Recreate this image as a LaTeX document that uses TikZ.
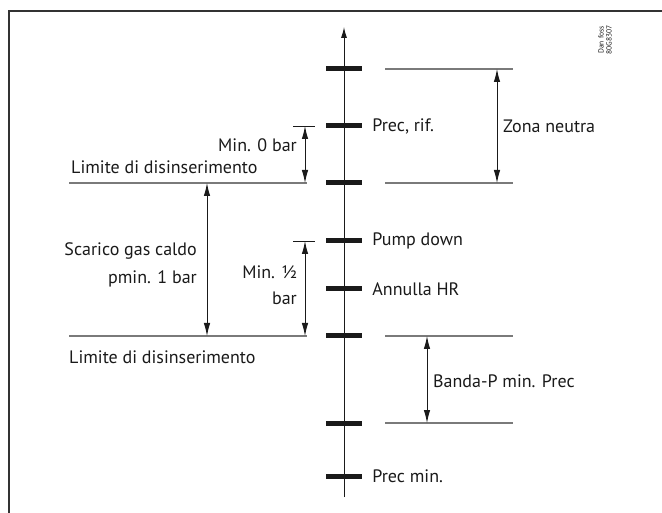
\documentclass[tikz,border=0pt]{standalone}
\usepackage{fontspec}
\setmainfont{PT Sans}
\usetikzlibrary{arrows.meta, positioning}
\definecolor{frameclr}{HTML}{333333}
\definecolor{guide}{HTML}{7A7A7A}
\definecolor{ink}{HTML}{1A1A1A}
\tikzset{
  frameline/.style={draw=frameclr, line width=1.3pt},
  axisline/.style={draw=ink, line width=1pt, -{Latex[length=11pt, width=6pt]}},
  tickbar/.style={fill=ink, minimum width=36pt, minimum height=5pt, inner sep=0pt},
  guideline/.style={draw=guide, line width=1.2pt},
  dimarrow/.style={draw=ink, line width=0.9pt,
    {Latex[length=13pt, width=6.5pt]}-{Latex[length=13pt, width=6.5pt]}},
  ticklbl/.style={font=\fontsize{18}{20}\selectfont, text=ink, inner sep=0pt},
  sidelbl/.style={font=\fontsize{18}{20}\selectfont, text=ink, inner sep=0pt},
  codelbl/.style={font=\fontsize{7.5}{8}\selectfont, text=ink, rotate=90, align=center, inner sep=0pt}
}

\begin{document}
\begin{tikzpicture}[x=1pt, y=-1pt]

  \useasboundingbox (0,0) rectangle (662,513);

  % ---- Frame ---------------------------------------------------------------
  \coordinate (fbl) at (9,513);
  \coordinate (ftl) at (9,11);
  \coordinate (ftr) at (662,11);
  \draw[frameline] (fbl) -- (ftl) -- (ftr);
  \node[codelbl] (code) at (605,40) {Dan foss\\80G8307};

  % ---- Pressure axis -------------------------------------------------------
  \coordinate (axbot) at (344,497);
  \coordinate (axtop) at (344,27);
  \draw[axisline] (axbot) -- (axtop);

  % ---- Tick bars on the axis -----------------------------------------------
  \node[tickbar] (t1) at (344,69)  {};
  \node[tickbar] (t2) at (344,126) {};
  \node[tickbar] (t3) at (344,183) {};
  \node[tickbar] (t4) at (344,241) {};
  \node[tickbar] (t5) at (344,289) {};
  \node[tickbar] (t6) at (344,336) {};
  \node[tickbar] (t7) at (344,423) {};
  \node[tickbar] (t8) at (344,476) {};

  % ---- Labels right of the ticks -------------------------------------------
  \node[ticklbl, right=10pt of t2] (prif)  {Prec, rif.};
  \node[ticklbl, right=10pt of t4] (pdown) {Pump down};
  \node[ticklbl, right=10pt of t5] (ahr)   {Annulla HR};
  \node[ticklbl, right=10pt of t8] (pmin)  {Prec min.};

  % ---- Zona neutra (right) -------------------------------------------------
  \coordinate (zn1a) at (385,69);  \coordinate (zn1b) at (513,69);
  \coordinate (zn2a) at (385,183); \coordinate (zn2b) at (513,183);
  \draw[guideline] (zn1a) -- (zn1b);
  \draw[guideline] (zn2a) -- (zn2b);
  \coordinate (znt) at (497,69);
  \coordinate (znb) at (497,183);
  \draw[dimarrow] (znt) -- (znb);
  \node[sidelbl, anchor=west] (zona) at (503,126) {Zona neutra};

  % ---- Banda-P (right) -----------------------------------------------------
  \coordinate (bp1a) at (385,336); \coordinate (bp1b) at (513,336);
  \coordinate (bp2a) at (385,423); \coordinate (bp2b) at (513,423);
  \draw[guideline] (bp1a) -- (bp1b);
  \draw[guideline] (bp2a) -- (bp2b);
  \coordinate (bpt) at (427,336);
  \coordinate (bpb) at (427,423);
  \draw[dimarrow] (bpt) -- (bpb);
  \node[sidelbl, anchor=west] (banda) at (433,381) {Banda-P min. Prec};

  % ---- Cut-out limits (left) -----------------------------------------------
  \coordinate (lu1) at (69,183);  \coordinate (lu2) at (307,183);
  \coordinate (ll1) at (69,336);  \coordinate (ll2) at (307,336);
  \draw[guideline] (lu1) -- (lu2);
  \draw[guideline] (ll1) -- (ll2);
  \node[sidelbl, anchor=west] (limup) at (71,167) {Limite di disinserimento};
  \node[sidelbl, anchor=west] (limlo) at (69,357) {Limite di disinserimento};

  % ---- Min. 0 bar ----------------------------------------------------------
  \coordinate (m0a) at (293,126); \coordinate (m0b) at (315,126);
  \draw[draw=ink, line width=0.8pt] (m0a) -- (m0b);
  \coordinate (m0t) at (305,126);
  \coordinate (m0d) at (305,183);
  \draw[dimarrow] (m0t) -- (m0d);
  \node[sidelbl, anchor=east] (min0) at (297,145) {Min. 0 bar};

  % ---- Min. 1/2 bar --------------------------------------------------------
  \coordinate (mha) at (293,241); \coordinate (mhb) at (315,241);
  \draw[draw=ink, line width=0.8pt] (mha) -- (mhb);
  \coordinate (mht) at (305,241);
  \coordinate (mhd) at (305,336);
  \draw[dimarrow] (mht) -- (mhd);
  \node[sidelbl, anchor=east] (minh1) at (297,272) {Min. ½};
  \node[sidelbl, anchor=east] (minh2) at (297,298) {bar};

  % ---- Scarico gas caldo ---------------------------------------------------
  \coordinate (sgt) at (207,183);
  \coordinate (sgd) at (207,336);
  \draw[dimarrow] (sgt) -- (sgd);
  \node[sidelbl, anchor=east] (sg1) at (197,251) {Scarico gas caldo};
  \node[sidelbl, anchor=east] (sg2) at (197,279) {pmin. 1 bar};

\end{tikzpicture}
\end{document}
